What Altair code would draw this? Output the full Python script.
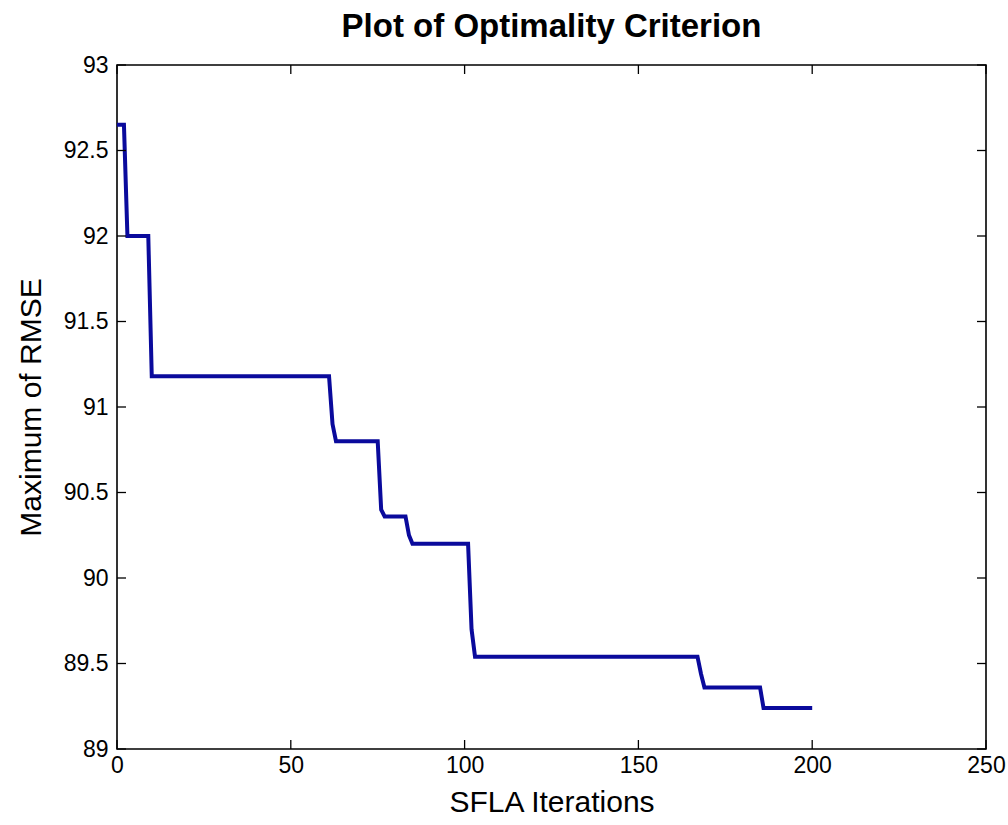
import altair as alt
import pandas as pd

# ---- data ----
iterations = [0, 2, 3, 9, 10, 61, 62, 63, 75, 76, 77, 83, 84, 85,
              101, 102, 103, 167, 168, 169, 185, 186, 200]
max_rmse = [92.65, 92.65, 92.0, 92.0, 91.18, 91.18, 90.9, 90.8, 90.8, 90.4,
            90.36, 90.36, 90.25, 90.2, 90.2, 89.7, 89.54, 89.54, 89.44,
            89.36, 89.36, 89.24, 89.24]
x_ticks = [0, 50, 100, 150, 200, 250]
y_ticks = [89, 89.5, 90, 90.5, 91, 91.5, 92, 92.5, 93]

# ---- layout ----
W, H = 869, 684
X_MIN, X_MAX = 0, 250
Y_MIN, Y_MAX = 89, 93
FONT = "Liberation Sans"
TICK_PX = 9
tick_dx = TICK_PX * (X_MAX - X_MIN) / W
tick_dy = TICK_PX * (Y_MAX - Y_MIN) / H

line_df = pd.DataFrame({"iter": iterations, "rmse": max_rmse})

xs = alt.Scale(domain=[X_MIN, X_MAX], nice=False, zero=False)
ys = alt.Scale(domain=[Y_MIN, Y_MAX], nice=False, zero=False)

x_axis = alt.Axis(
    values=x_ticks, grid=False, ticks=False, tickSize=0, domain=False,
    labelFont=FONT, labelFontSize=23, labelColor="black",
    labelPadding=23, labelBaseline="alphabetic", labelFlush=False,
    labelOverlap=False,
    title="SFLA Iterations", titleFont=FONT, titleFontSize=30,
    titleFontWeight="normal", titleColor="black",
    titleX=W / 2, titleY=62, titleAlign="center", titleBaseline="alphabetic",
)
y_axis = alt.Axis(
    values=y_ticks, grid=False, ticks=False, tickSize=0, domain=False,
    labelFont=FONT, labelFontSize=23, labelColor="black",
    labelPadding=9, labelBaseline="middle", labelAlign="right",
    labelFlush=False, labelOverlap=False, labelExpr="'' + datum.value",
    title="Maximum of RMSE", titleFont=FONT, titleFontSize=30,
    titleFontWeight="normal", titleColor="black",
    titleAngle=270, titleX=-77, titleY=H / 2, titleAlign="center",
    titleBaseline="alphabetic",
)

line = alt.Chart(line_df).mark_line(
    color="#0a0a9c", strokeWidth=4, strokeJoin="miter"
).encode(
    x=alt.X("iter:Q", scale=xs, axis=x_axis),
    y=alt.Y("rmse:Q", scale=ys, axis=y_axis),
)

# inward tick marks on all four sides (MATLAB box style)
bt = pd.DataFrame({"iter": x_ticks, "rmse": [Y_MIN] * len(x_ticks),
                   "rmse2": [Y_MIN + tick_dy] * len(x_ticks)})
tt = pd.DataFrame({"iter": x_ticks, "rmse": [Y_MAX] * len(x_ticks),
                   "rmse2": [Y_MAX - tick_dy] * len(x_ticks)})
lt = pd.DataFrame({"rmse": y_ticks, "iter": [X_MIN] * len(y_ticks),
                   "iter2": [X_MIN + tick_dx] * len(y_ticks)})
rt = pd.DataFrame({"rmse": y_ticks, "iter": [X_MAX] * len(y_ticks),
                   "iter2": [X_MAX - tick_dx] * len(y_ticks)})


def vticks(df):
    return alt.Chart(df).mark_rule(color="black", strokeWidth=1.3).encode(
        x=alt.X("iter:Q", scale=xs, axis=x_axis),
        y=alt.Y("rmse:Q", scale=ys, axis=y_axis),
        y2="rmse2:Q",
    )


def hticks(df):
    return alt.Chart(df).mark_rule(color="black", strokeWidth=1.3).encode(
        y=alt.Y("rmse:Q", scale=ys, axis=y_axis),
        x=alt.X("iter:Q", scale=xs, axis=x_axis),
        x2="iter2:Q",
    )


chart = alt.layer(
    line, vticks(bt), vticks(tt), hticks(lt), hticks(rt)
).properties(
    width=W, height=H,
    title=alt.TitleParams(
        "Plot of Optimality Criterion", font=FONT, fontSize=33,
        fontWeight="bold", color="black", anchor="middle",
        baseline="alphabetic", offset=28, frame="group", dy=44,
    ),
    autosize=alt.AutoSizeParams(type="none"),
    padding={"left": 117, "top": 65, "right": 22, "bottom": 76},
    background="white",
).configure_view(stroke="black", strokeWidth=1.6)

chart.save("out.html", embed_options={"renderer": "svg", "actions": False})
